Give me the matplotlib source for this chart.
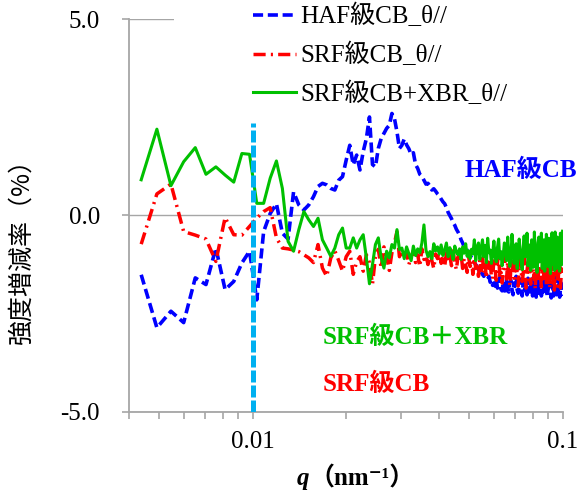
import numpy as np
import matplotlib
matplotlib.use("Agg")
from matplotlib import pyplot as plt
from matplotlib.patches import Rectangle
from matplotlib.ticker import FixedLocator, NullFormatter

plt.rcParams['font.family'] = ['Liberation Serif', 'DejaVu Serif', 'Noto Sans CJK JP']

# q grid (nm^-1): linear sampling
Q_START = 0.00437
Q_STEP = 0.00054

# intensity change (%) for each q point
haf_cb = [
    -1.51, -2.86, -2.44, -2.73, -1.59, -1.76, -0.83, -1.89, -1.68, -1.21,
    -0.91, -2.15, -0.41, 0.05, 0.30, -0.45, -0.60, 0.60, 0.27, 0.14,
    0.27, 0.48, 0.74, 0.82, 0.78, 0.69, 0.65, 0.90, 0.99, 1.41,
    1.79, 1.29, 1.54, 1.16, 1.63, 1.96, 2.51, 1.30, 1.24, 1.71,
    1.96, 2.09, 2.22, 2.30, 2.60, 2.47, 2.13, 1.71, 1.79,
    1.95, 1.80, 1.70, 1.55, 1.60, 1.30, 1.20, 1.05, 1.00, 0.90,
    0.80, 0.82, 0.75, 0.65, 0.68, 0.62, 0.55, 0.50, 0.42, 0.35,
    0.30, 0.20, 0.08, 0.00, -0.08, -0.18, -0.25, -0.35, -0.42, -0.50,
    -0.62, -0.70, -0.80, -0.78, -0.90, -0.95, -1.00, -1.08, -1.15, -1.20,
    -1.25, -1.30, -1.38, -1.35, -1.45, -1.50, -1.55, -1.48, -1.60, -1.62,
    -1.55, -1.70, -1.65, -1.78, -1.72, -1.80,
    -1.62, -1.85, -1.78, -1.58, -1.88, -1.92, -1.68, -1.75, -1.98, -1.60,
    -1.82, -1.95, -1.70, -1.65, -1.88, -2.02, -1.72, -1.80, -1.55, -1.90,
    -1.98, -1.75, -1.62, -1.85, -2.05, -1.70, -1.66, -1.92, -1.80, -2.02,
    -1.60, -1.75, -1.95, -1.85, -1.62, -2.05, -1.90, -1.70, -1.78, -2.08,
    -1.55, -1.82, -1.98, -1.68, -1.75, -2.05, -1.88, -1.60, -1.95, -2.00,
    -1.72, -1.65, -2.08, -1.90, -1.78, -1.62, -1.98, -2.10, -1.75, -1.85,
    -2.05, -1.70, -1.58, -1.95, -2.02, -1.80, -1.92, -1.65, -2.08, -1.88,
    -1.72, -1.95, -2.05,
]

srf_cb = [
    -0.73, 0.55, 0.80, -0.41, -0.50, -0.60, -1.17, -0.05, -0.49, -0.50,
    -0.28, -0.07, 0.10, 0.20, -0.57, -0.83, -0.85, -0.88, -0.92, -1.00,
    -1.08, -1.20, -0.74, -1.34, -1.55, -1.08, -0.90, -1.15, -1.42, -1.05,
    -0.91, -1.50, -1.18, -1.05, -1.42, -1.00, -1.20, -1.75, -1.05, -0.86,
    -1.34, -0.80, -1.05, -1.40, -0.95, -0.70, -0.41, -1.05, -0.90,
    -1.10, -0.95, -1.25, -1.05, -0.90, -1.20, -1.00, -1.30, -0.85, -1.12,
    -1.02, -1.25, -0.92, -1.15, -1.35, -0.98, -1.10, -0.88, -1.22, -1.05,
    -1.30, -0.95, -1.15, -1.02, -1.28, -0.90, -1.20, -1.38, -1.05, -1.15,
    -0.98, -1.35, -1.10, -1.25, -1.45, -1.05, -1.30, -1.15, -1.50, -1.08,
    -1.35, -1.20, -1.55, -1.12, -1.40, -1.00, -1.48, -1.25, -1.60, -1.18,
    -1.42, -1.20, -1.55, -1.62, -1.10, -1.38, -1.65, -1.22, -0.95, -1.58,
    -1.45, -1.72, -1.30, -1.05, -1.40, -1.62, -1.18, -1.50, -1.78, -1.32,
    -1.08, -1.45, -1.60, -1.25, -0.98, -1.55, -1.80, -1.35, -1.12, -1.42,
    -1.68, -1.50, -1.02, -1.28, -1.85, -1.40, -1.22, -0.92, -1.65, -1.75,
    -1.30, -1.10, -1.58, -1.48, -1.88, -1.15, -1.35, -1.70, -1.25, -0.95,
    -1.52, -1.82, -1.38, -1.12, -1.60, -1.45, -1.00, -1.78, -1.55, -1.28,
    -1.15, -1.85, -1.62, -1.35, -1.05, -1.72, -1.48, -1.90, -1.30, -1.50,
    -1.20, -1.80, -1.62, -1.38, -1.10, -1.85, -1.55, -1.30, -1.45,
]

srf_cb_xbr = [
    0.91, 2.20, 0.76, 1.37, 1.73, 1.05, 1.24, 1.03, 0.85, 1.58,
    1.56, 0.31, 0.31, 0.95, 1.39, 0.69, -0.66, -0.91, -0.36, 0.10,
    -0.11, -0.28, -0.07, -0.62, -0.83, -1.04, -0.83, -0.49, -0.32, -0.83,
    -0.83, -0.57, -0.83, -0.62, -0.49, -1.08, -1.74, -1.25, -0.74, -0.57,
    -1.08, -1.34, -0.91, -1.08, -0.74, -0.83, -0.36, -0.87, -0.83,
    -1.10, -0.80, -0.98, -1.15, -0.78, -1.02, -0.85, -0.95, -0.70, -0.24,
    -0.88, -1.05, -0.92, -1.10, -0.72, -0.90, -0.80, -0.98, -0.75, -1.02,
    -0.88, -0.70, -1.05, -0.82, -0.95, -1.12, -0.78, -0.92, -1.00, -0.85,
    -1.12, -0.80, -0.96, -0.72, -1.04, -0.90, -1.10, -0.86, -0.98, -0.62,
    -1.15, -0.80, -0.70, -1.12, -0.84, -0.62, -1.05, -0.76, -1.20, -0.58,
    -0.95, -0.88, -1.22, -0.98, -0.65, -1.05, -1.18, -0.82, -0.60, -1.10,
    -0.92, -1.28, -1.02, -0.70, -0.78, -1.15, -0.55, -0.98, -1.30, -1.05,
    -0.48, -0.85, -1.22, -0.95, -0.72, -1.35, -1.00, -0.60, -0.90, -1.15,
    -1.38, -0.85, -0.52, -1.05, -0.98, -0.45, -1.28, -1.10, -0.75, -1.40,
    -0.62, -0.95, -1.32, -0.42, -1.08, -0.88, -1.45, -0.70, -0.55, -1.18,
    -1.00, -0.45, -1.35, -0.92, -0.62, -1.42, -1.05, -0.48, -0.80, -1.30,
    -0.58, -1.12, -1.48, -0.66, -0.44, -1.25, -0.95, -1.40, -0.42, -0.85,
    -1.35, -0.55, -1.10, -0.60, -1.42, -0.45, -0.98, -1.25, -0.40,
]

legend_labels = ["HAF級CB_θ//", "SRF級CB_θ//", "SRF級CB+XBR_θ//"]
marker_q = 0.01        # vertical reference line
marker_top = 2.35

q = Q_START + Q_STEP * np.arange(len(haf_cb))

GRAY = '#a6a6a6'
fig = plt.figure(figsize=(5.79, 4.95), dpi=100)
ax = fig.add_axes([0.2233, 0.1683, 0.7485, 0.7927])

ax.plot(q, haf_cb, color='#0000ff', lw=2.6, dashes=(2.8, 1.3), label=legend_labels[0], zorder=2)
ax.plot(q, srf_cb, color='#ff0000', lw=2.5, dashes=(3.5, 1.5, 0.6, 1.5), label=legend_labels[1], zorder=2.1)
ax.plot(q, srf_cb_xbr, color='#00c000', lw=2.2, label=legend_labels[2], zorder=2.2)
ax.vlines(marker_q, -5, marker_top, color='#00b0f0', lw=3.6, linestyles=(0, (2.4, 0.6)), zorder=3)

ax.set_xscale('log')
ax.set_xlim(0.004, 0.1)
ax.set_ylim(-5, 5)
ax.set_xticks([0.01, 0.1])
ax.set_xticklabels(['0.01', '0.1'])
ax.xaxis.set_minor_locator(FixedLocator([0.004, 0.005, 0.006, 0.007, 0.008, 0.009,
                                         0.02, 0.03, 0.04, 0.05, 0.06, 0.07, 0.08, 0.09]))
ax.xaxis.set_minor_formatter(NullFormatter())
ax.set_yticks([-5, 0, 5])
ax.set_yticklabels(['-5.0', '0.0', '5.0'])

for s in ['top', 'right']:
    ax.spines[s].set_visible(False)
for s in ['left', 'bottom']:
    ax.spines[s].set_color(GRAY)
    ax.spines[s].set_linewidth(1.3)

ax.tick_params(axis='both', which='both', direction='out', length=5, width=1.2, color=GRAY, labelsize=18)
ax.tick_params(axis='y', pad=16)
ax.tick_params(axis='x', pad=9)
ax.yaxis.grid(True, color=GRAY, lw=1.0)
ax.set_axisbelow(True)

# white patch behind the legend hides the top gridline
ax.add_patch(Rectangle((0.103, 0.80), 0.95, 0.3, transform=ax.transAxes,
                       facecolor='white', edgecolor='none', zorder=1, clip_on=False))

fig.legend(loc='upper left', bbox_to_anchor=(253 / 579, 1 - 4 / 495), frameon=False,
           fontsize=18, handlelength=1.7, handletextpad=0.2, labelspacing=0.58,
           borderpad=0, borderaxespad=0)

fig.text(465 / 579, 1 - 170 / 495, 'HAF級CB', color='#0000ff', fontsize=18, fontweight='bold', va='center')
fig.text(323 / 579, 1 - 337 / 495, 'SRF級CB＋XBR', color='#00c000', fontsize=18, fontweight='bold', va='center')
fig.text(323 / 579, 1 - 384 / 495, 'SRF級CB', color='#ff0000', fontsize=18, fontweight='bold', va='center')

fig.text(22 / 579, 1 - 245 / 495, '強度増減率（%）', rotation=90, ha='center', va='center',
         fontsize=18, family=['Noto Sans CJK JP'])
fig.text(297 / 579, 1 - 478 / 495, 'q', fontsize=18, style='italic', fontweight='bold', va='center')
fig.text(309 / 579, 1 - 478 / 495, '（nm⁻¹）', fontsize=18, fontweight='bold', va='center')

fig.savefig('out.png', dpi=100)
